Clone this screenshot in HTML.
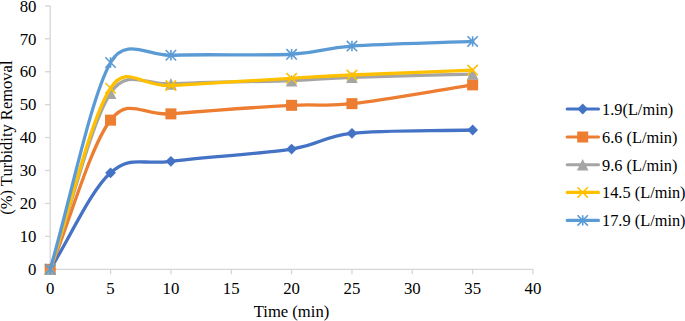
<!DOCTYPE html><html><head><meta charset="utf-8"><style>html,body{margin:0;padding:0;background:#fff}svg{display:block}text{font-family:"Liberation Serif",serif;fill:#000}</style></head><body>
<svg width="685" height="321" viewBox="0 0 685 321">
<rect width="685" height="321" fill="#fff"/>
<path d="M50.20 5.86 V269.30 H533.00" stroke="#D6D6D6" stroke-width="1.3" fill="none"/>
<path d="M45.00 269.30 H50.20" stroke="#D6D6D6" stroke-width="1.3"/>
<text x="36.50" y="275.05" font-size="16.8" text-anchor="end">0</text>
<path d="M45.00 236.37 H50.20" stroke="#D6D6D6" stroke-width="1.3"/>
<text x="36.50" y="242.12" font-size="16.8" text-anchor="end">10</text>
<path d="M45.00 203.44 H50.20" stroke="#D6D6D6" stroke-width="1.3"/>
<text x="36.50" y="209.19" font-size="16.8" text-anchor="end">20</text>
<path d="M45.00 170.51 H50.20" stroke="#D6D6D6" stroke-width="1.3"/>
<text x="36.50" y="176.26" font-size="16.8" text-anchor="end">30</text>
<path d="M45.00 137.58 H50.20" stroke="#D6D6D6" stroke-width="1.3"/>
<text x="36.50" y="143.33" font-size="16.8" text-anchor="end">40</text>
<path d="M45.00 104.65 H50.20" stroke="#D6D6D6" stroke-width="1.3"/>
<text x="36.50" y="110.40" font-size="16.8" text-anchor="end">50</text>
<path d="M45.00 71.72 H50.20" stroke="#D6D6D6" stroke-width="1.3"/>
<text x="36.50" y="77.47" font-size="16.8" text-anchor="end">60</text>
<path d="M45.00 38.79 H50.20" stroke="#D6D6D6" stroke-width="1.3"/>
<text x="36.50" y="44.54" font-size="16.8" text-anchor="end">70</text>
<path d="M45.00 5.86 H50.20" stroke="#D6D6D6" stroke-width="1.3"/>
<text x="36.50" y="11.61" font-size="16.8" text-anchor="end">80</text>
<path d="M50.20 269.30 V274.30" stroke="#D6D6D6" stroke-width="1.3"/>
<text x="50.20" y="294.10" font-size="16.8" text-anchor="middle">0</text>
<path d="M110.55 269.30 V274.30" stroke="#D6D6D6" stroke-width="1.3"/>
<text x="110.55" y="294.10" font-size="16.8" text-anchor="middle">5</text>
<path d="M170.90 269.30 V274.30" stroke="#D6D6D6" stroke-width="1.3"/>
<text x="170.90" y="294.10" font-size="16.8" text-anchor="middle">10</text>
<path d="M231.25 269.30 V274.30" stroke="#D6D6D6" stroke-width="1.3"/>
<text x="231.25" y="294.10" font-size="16.8" text-anchor="middle">15</text>
<path d="M291.60 269.30 V274.30" stroke="#D6D6D6" stroke-width="1.3"/>
<text x="291.60" y="294.10" font-size="16.8" text-anchor="middle">20</text>
<path d="M351.95 269.30 V274.30" stroke="#D6D6D6" stroke-width="1.3"/>
<text x="351.95" y="294.10" font-size="16.8" text-anchor="middle">25</text>
<path d="M412.30 269.30 V274.30" stroke="#D6D6D6" stroke-width="1.3"/>
<text x="412.30" y="294.10" font-size="16.8" text-anchor="middle">30</text>
<path d="M472.65 269.30 V274.30" stroke="#D6D6D6" stroke-width="1.3"/>
<text x="472.65" y="294.10" font-size="16.8" text-anchor="middle">35</text>
<path d="M533.00 269.30 V274.30" stroke="#D6D6D6" stroke-width="1.3"/>
<text x="533.00" y="294.10" font-size="16.8" text-anchor="middle">40</text>
<text x="291.5" y="317" font-size="16.6" text-anchor="middle">Time (min)</text>
<text transform="translate(11.6 137.6) rotate(-90)" font-size="16.55" text-anchor="middle">(%) Turbidity Removal</text>
<path d="M50.20 269.30 C70.32 237.14 90.43 190.82 110.55 172.82 C130.67 154.81 140.72 165.24 170.90 161.29 C201.08 157.34 261.43 153.77 291.60 149.11 C321.78 144.44 321.77 136.48 351.95 133.30 C382.12 130.12 432.42 131.10 472.65 130.01" stroke="#4472C4" stroke-width="3.3" fill="none" stroke-linecap="round" stroke-linejoin="round"/>
<path d="M50.20 263.90 L55.60 269.30 L50.20 274.70 L44.80 269.30 Z" fill="#4472C4"/>
<path d="M110.55 167.42 L115.95 172.82 L110.55 178.22 L105.15 172.82 Z" fill="#4472C4"/>
<path d="M170.90 155.89 L176.30 161.29 L170.90 166.69 L165.50 161.29 Z" fill="#4472C4"/>
<path d="M291.60 143.71 L297.00 149.11 L291.60 154.51 L286.20 149.11 Z" fill="#4472C4"/>
<path d="M351.95 127.90 L357.35 133.30 L351.95 138.70 L346.55 133.30 Z" fill="#4472C4"/>
<path d="M472.65 124.61 L478.05 130.01 L472.65 135.41 L467.25 130.01 Z" fill="#4472C4"/>
<path d="M50.20 269.30 C70.32 219.58 90.43 146.03 110.55 120.13 C129.16 96.17 142.99 116.15 170.90 113.87 C201.08 111.40 261.43 107.01 291.60 105.31 C321.74 103.61 321.95 107.04 351.95 103.66 C382.12 100.26 432.42 91.15 472.65 84.89" stroke="#ED7D31" stroke-width="3.3" fill="none" stroke-linecap="round" stroke-linejoin="round"/>
<rect x="44.70" y="263.80" width="11.00" height="11.00" fill="#ED7D31"/>
<rect x="105.05" y="114.63" width="11.00" height="11.00" fill="#ED7D31"/>
<rect x="165.40" y="108.37" width="11.00" height="11.00" fill="#ED7D31"/>
<rect x="286.10" y="99.81" width="11.00" height="11.00" fill="#ED7D31"/>
<rect x="346.45" y="98.16" width="11.00" height="11.00" fill="#ED7D31"/>
<rect x="467.15" y="79.39" width="11.00" height="11.00" fill="#ED7D31"/>
<path d="M50.20 269.30 C70.32 210.57 90.43 124.02 110.55 93.12 C127.20 67.54 145.92 85.63 170.90 83.90 C201.08 81.82 261.43 81.71 291.60 80.61 C321.78 79.51 321.77 78.42 351.95 77.32 C382.12 76.22 432.42 75.12 472.65 74.03" stroke="#A5A5A5" stroke-width="3.3" fill="none" stroke-linecap="round" stroke-linejoin="round"/>
<path d="M50.20 263.50 L56.00 275.10 L44.40 275.10 Z" fill="#A5A5A5"/>
<path d="M110.55 87.32 L116.35 98.92 L104.75 98.92 Z" fill="#A5A5A5"/>
<path d="M170.90 78.10 L176.70 89.70 L165.10 89.70 Z" fill="#A5A5A5"/>
<path d="M291.60 74.81 L297.40 86.41 L285.80 86.41 Z" fill="#A5A5A5"/>
<path d="M351.95 71.52 L357.75 83.12 L346.15 83.12 Z" fill="#A5A5A5"/>
<path d="M472.65 68.23 L478.45 79.83 L466.85 79.83 Z" fill="#A5A5A5"/>
<path d="M50.20 269.30 C70.32 208.93 90.43 118.81 110.55 88.19 C127.13 62.94 140.74 87.20 170.90 85.55 C201.08 83.90 261.43 80.06 291.60 78.31 C321.77 76.55 321.78 76.38 351.95 75.01 C382.12 73.64 432.42 71.72 472.65 70.07" stroke="#FFC000" stroke-width="3.3" fill="none" stroke-linecap="round" stroke-linejoin="round"/>
<path d="M45.00 264.10 L55.40 274.50 M55.40 264.10 L45.00 274.50" stroke="#FFC000" stroke-width="1.6" fill="none"/>
<path d="M105.35 82.98 L115.75 93.39 M115.75 82.98 L105.35 93.39" stroke="#FFC000" stroke-width="1.6" fill="none"/>
<path d="M165.70 80.35 L176.10 90.75 M176.10 80.35 L165.70 90.75" stroke="#FFC000" stroke-width="1.6" fill="none"/>
<path d="M286.40 73.11 L296.80 83.51 M296.80 73.11 L286.40 83.51" stroke="#FFC000" stroke-width="1.6" fill="none"/>
<path d="M346.75 69.81 L357.15 80.21 M357.15 69.81 L346.75 80.21" stroke="#FFC000" stroke-width="1.6" fill="none"/>
<path d="M467.45 64.87 L477.85 75.27 M477.85 64.87 L467.45 75.27" stroke="#FFC000" stroke-width="1.6" fill="none"/>
<path d="M50.20 269.30 C70.32 200.37 90.43 98.17 110.55 62.50 C125.48 36.03 148.51 56.27 170.90 55.25 C201.08 53.88 261.43 55.80 291.60 54.27 C321.78 52.73 321.77 48.18 351.95 46.03 C382.12 43.89 432.42 42.96 472.65 41.42" stroke="#5B9BD5" stroke-width="3.3" fill="none" stroke-linecap="round" stroke-linejoin="round"/>
<path d="M45.00 264.10 L55.40 274.50 M55.40 264.10 L45.00 274.50 M50.20 264.10 L50.20 274.50" stroke="#5B9BD5" stroke-width="1.6" fill="none"/>
<path d="M105.35 57.30 L115.75 67.70 M115.75 57.30 L105.35 67.70 M110.55 57.30 L110.55 67.70" stroke="#5B9BD5" stroke-width="1.6" fill="none"/>
<path d="M165.70 50.05 L176.10 60.45 M176.10 50.05 L165.70 60.45 M170.90 50.05 L170.90 60.45" stroke="#5B9BD5" stroke-width="1.6" fill="none"/>
<path d="M286.40 49.07 L296.80 59.47 M296.80 49.07 L286.40 59.47 M291.60 49.07 L291.60 59.47" stroke="#5B9BD5" stroke-width="1.6" fill="none"/>
<path d="M346.75 40.83 L357.15 51.23 M357.15 40.83 L346.75 51.23 M351.95 40.83 L351.95 51.23" stroke="#5B9BD5" stroke-width="1.6" fill="none"/>
<path d="M467.45 36.22 L477.85 46.62 M477.85 36.22 L467.45 46.62 M472.65 36.22 L472.65 46.62" stroke="#5B9BD5" stroke-width="1.6" fill="none"/>
<path d="M567.2 109.00 H598.5" stroke="#4472C4" stroke-width="3.1" stroke-linecap="round"/>
<path d="M582.70 103.60 L588.10 109.00 L582.70 114.40 L577.30 109.00 Z" fill="#4472C4"/>
<text transform="translate(602 114.70) scale(0.968 1)" font-size="16.9">1.9(L/min)</text>
<path d="M567.2 137.00 H598.5" stroke="#ED7D31" stroke-width="3.1" stroke-linecap="round"/>
<rect x="577.20" y="131.50" width="11.00" height="11.00" fill="#ED7D31"/>
<text transform="translate(602 142.70) scale(0.968 1)" font-size="16.9">6.6 (L/min)</text>
<path d="M567.2 164.80 H598.5" stroke="#A5A5A5" stroke-width="3.1" stroke-linecap="round"/>
<path d="M582.70 159.00 L588.50 170.60 L576.90 170.60 Z" fill="#A5A5A5"/>
<text transform="translate(602 170.50) scale(0.968 1)" font-size="16.9">9.6 (L/min)</text>
<path d="M567.2 192.40 H598.5" stroke="#FFC000" stroke-width="3.1" stroke-linecap="round"/>
<path d="M577.50 187.20 L587.90 197.60 M587.90 187.20 L577.50 197.60" stroke="#FFC000" stroke-width="1.6" fill="none"/>
<text transform="translate(602 198.10) scale(0.968 1)" font-size="16.9">14.5 (L/min)</text>
<path d="M567.2 220.40 H598.5" stroke="#5B9BD5" stroke-width="3.1" stroke-linecap="round"/>
<path d="M577.50 215.20 L587.90 225.60 M587.90 215.20 L577.50 225.60 M582.70 215.20 L582.70 225.60" stroke="#5B9BD5" stroke-width="1.6" fill="none"/>
<text transform="translate(602 226.10) scale(0.968 1)" font-size="16.9">17.9 (L/min)</text>
</svg></body></html>
